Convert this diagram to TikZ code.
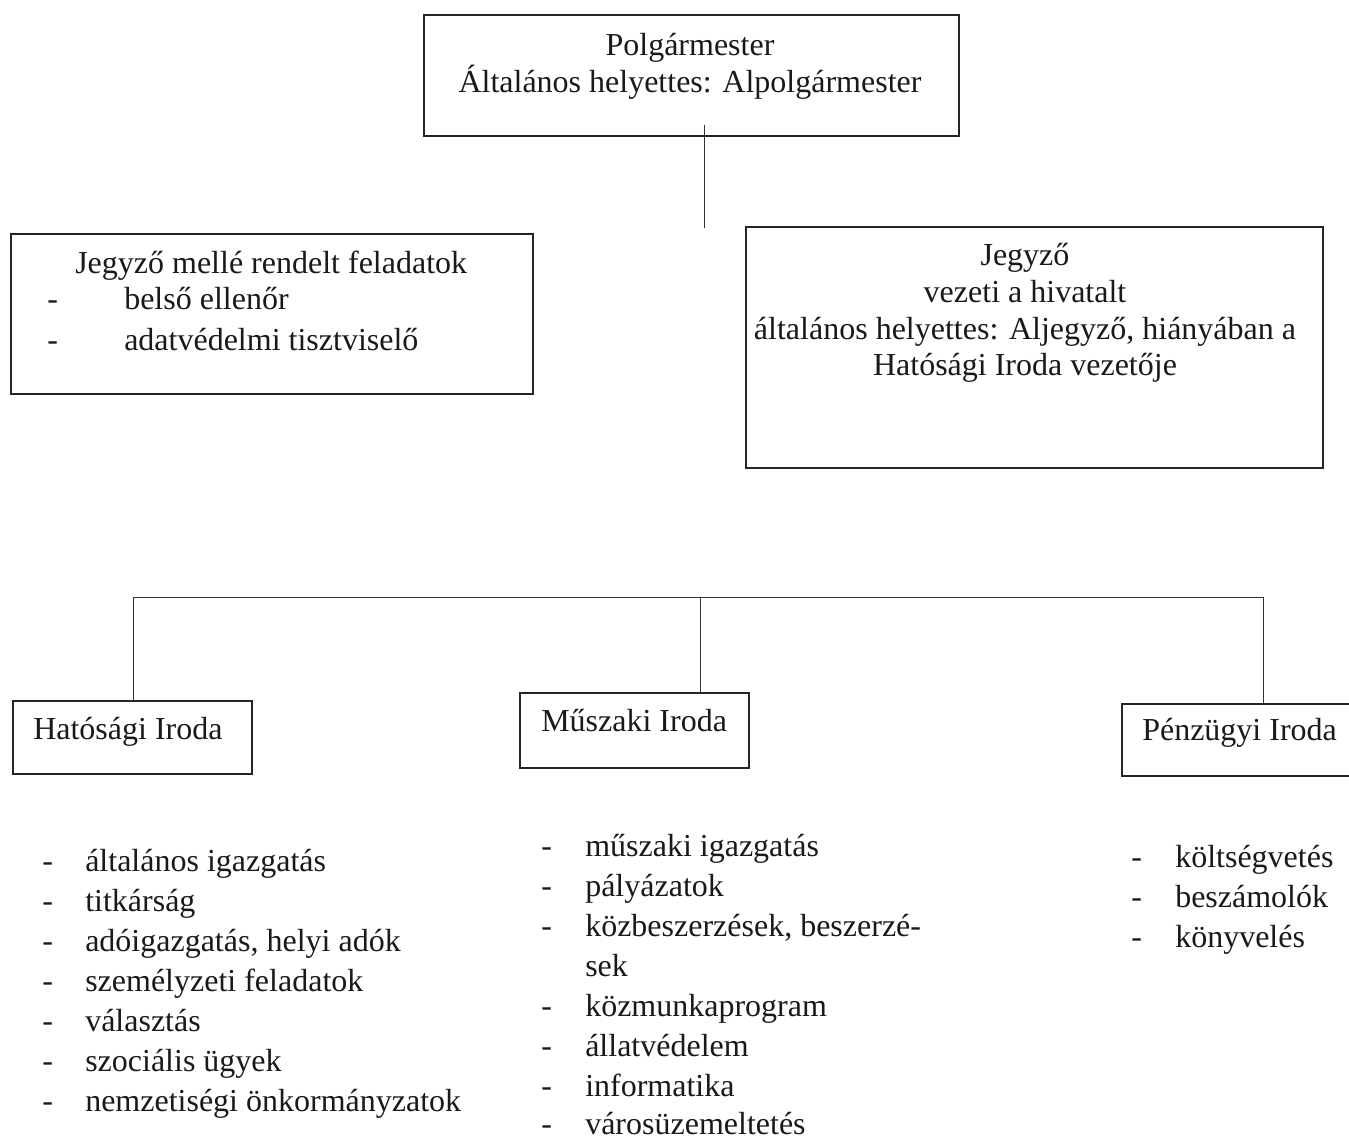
\documentclass[tikz,border=0pt]{standalone}
\usepackage{fontspec}
\setmainfont{Liberation Serif}
\begin{document}
\begin{tikzpicture}[x=0.75pt,y=-0.75pt,
  box/.style={draw=black!85,line width=1.3pt,rectangle,inner sep=0pt,anchor=north west},
  conn/.style={draw=black!80,line width=0.7pt},
  txt/.style={anchor=base west,inner sep=0pt,font=\fontsize{24}{28}\selectfont,text=black!90},
  ctxt/.style={anchor=base,inner sep=0pt,font=\fontsize{24}{28}\selectfont,text=black!90}]
\useasboundingbox (0,0) rectangle (1349,1139);
\clip (0,0) rectangle (1349,1139);
% boxes
\node[box,minimum width=535*0.75pt,minimum height=121*0.75pt] (mayor) at (423,14) {};
\node[box,minimum width=522*0.75pt,minimum height=160*0.75pt] (assist) at (10,233) {};
\node[box,minimum width=577*0.75pt,minimum height=241*0.75pt] (notary) at (745,226) {};
\node[box,minimum width=239*0.75pt,minimum height=73*0.75pt] (hat) at (12,700) {};
\node[box,minimum width=229*0.75pt,minimum height=75*0.75pt] (musz) at (519,692) {};
\node[box,minimum width=290*0.75pt,minimum height=72*0.75pt] (penz) at (1121,703) {};
% box texts
\node[ctxt] (t1) at (690,55) {Polgármester};
\node[ctxt] (t2) at (690,92) {Általános helyettes: Alpolgármester};
\node[txt] (a1) at (75,273) {Jegyző mellé rendelt feladatok};
\node[txt] (a2d) at (47,309) {-};
\node[txt] (a2) at (124,309) {belső ellenőr};
\node[txt] (a3d) at (47,350) {-};
\node[txt] (a3) at (124,350) {adatvédelmi tisztviselő};
\node[ctxt] (n1) at (1025,265) {Jegyző};
\node[ctxt] (n2) at (1025,302) {vezeti a hivatalt};
\node[ctxt] (n3) at (1025,339) {általános helyettes: Aljegyző, hiányában a};
\node[ctxt] (n4) at (1025,375) {Hatósági Iroda vezetője};
\node[txt] (ht) at (33,739) {Hatósági Iroda};
\node[txt] (mt) at (541,731) {Műszaki Iroda};
\node[txt] (pt) at (1142,740) {Pénzügyi Iroda};
% connectors
\coordinate (mstem) at (704,125);
\coordinate (mend) at (704,228);
\draw[conn] (mstem) -- (mend);
\coordinate (barL) at (133,597);
\coordinate (barM) at (700,597);
\coordinate (barR) at (1263,597);
\draw[conn] (barL) -- (barR);
\draw[conn] (barL) -- (barL |- hat.north);
\draw[conn] (barM) -- (barM |- musz.north);
\draw[conn] (barR) -- (barR |- penz.north);
% lists
\foreach \t [count=\i from 0] in {általános igazgatás,titkárság,{adóigazgatás, helyi adók},személyzeti feladatok,választás,szociális ügyek,nemzetiségi önkormányzatok}{
  \node[txt] (hd\i) at (42,871+40*\i) {-};
  \node[txt] (hl\i) at (85,871+40*\i) {\t};
}
\foreach \t [count=\i from 0] in {műszaki igazgatás,pályázatok,{közbeszerzések, beszerzé-}}{
  \node[txt] (md\i) at (541,856+40*\i) {-};
  \node[txt] (ml\i) at (585,856+40*\i) {\t};
}
\node[txt] (ml3) at (585,976) {sek};
\foreach \t [count=\i from 4] in {közmunkaprogram,állatvédelem,informatika}{
  \node[txt] (md\i) at (541,856+40*\i) {-};
  \node[txt] (ml\i) at (585,856+40*\i) {\t};
}
\node[txt] (md7) at (541,1134) {-};
\node[txt] (ml7) at (585,1134) {városüzemeltetés};
\foreach \t [count=\i from 0] in {költségvetés,beszámolók,könyvelés}{
  \node[txt] (pd\i) at (1131,867+40*\i) {-};
  \node[txt] (pl\i) at (1175,867+40*\i) {\t};
}
\end{tikzpicture}
\end{document}
